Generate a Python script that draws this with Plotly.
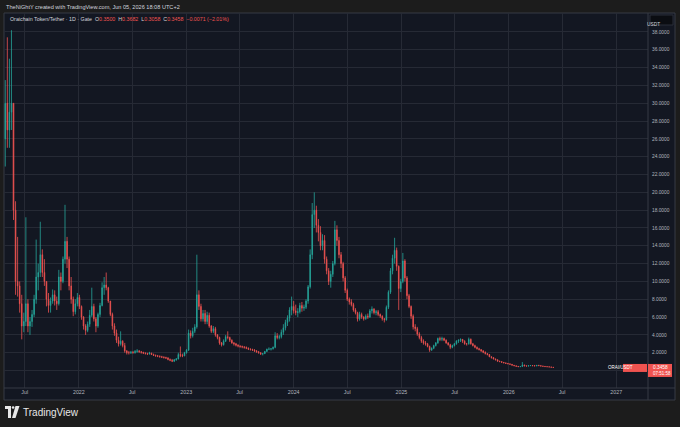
import pandas as pd
import plotly.graph_objects as go

# ORAI/USDT (Gate) - weekly candles
first_open = 26.0

highs = [
    32.6, 37.4, 35, 38.2, 30, 19, 15, 10, 8.5, 6.5,
    17.2, 8, 6, 6.8, 8.5, 14.7, 12, 16.7, 13.6, 12.5,
    10, 8.7, 8.2, 9.1, 9, 8.3, 11.3, 11, 12.8, 18.6,
    15, 12.8, 10.5, 8.3, 8, 8.7, 8.5, 7.3, 6.1, 5.2,
    5.5, 6.8, 9.3, 7.5, 6, 6.5, 7.6, 9.9, 10.5, 11,
    9.4, 7.8, 6.5, 5.3, 4.6, 3.8, 4.4, 3.4, 3.1, 2.3,
    2.2, 2.2, 2.2, 2.3, 2.4, 2.3, 2.2, 2.1, 2.05, 2.0,
    2.1, 2.0, 1.9, 1.8, 1.75, 1.7, 1.65, 1.6, 1.55, 1.5,
    1.35, 1.3, 1.3, 1.4, 2.0, 2.7, 1.9, 2.1, 2.4, 4.6,
    4.5, 4.8, 5.2, 13.0, 9, 7.5, 6.8, 6.8, 6.6, 6.5,
    5.1, 5.0, 4.9, 4.1, 3.8, 3.2, 3.5, 4.0, 4.4, 3.8,
    3.5, 3.2, 3.1, 2.95, 2.85, 2.8, 2.75, 2.7, 2.6, 2.5,
    2.45, 2.4, 2.3, 2.2, 2.05, 1.95, 2.2, 2.45, 2.6, 2.5,
    2.7, 4.3, 4.2, 4.0, 4.6, 5.2, 5.7, 6.2, 7.1, 8.3,
    7.8, 7.4, 7.0, 7.6, 7.7, 7.4, 8.0, 9.6, 13.6, 18.8,
    20.0, 18.5, 17.0, 16.2, 15.3, 15.2, 12.8, 11.5, 11.2, 12.3,
    16.8, 16.3, 15.0, 13.3, 12.2, 10.6, 9.2, 8.2, 8.0, 7.6,
    7.0, 6.6, 6.6, 6.5, 6.1, 6.3, 6.4, 6.9, 7.2, 7.0,
    6.8, 6.8, 6.4, 6.2, 5.9, 7.3, 9.0, 11.5, 13.0, 14.9,
    13.8, 11.8, 10.3, 13.2, 12.5, 10.6, 8.6, 7.3, 6.3, 5.2,
    4.9, 4.3, 3.9, 3.5, 3.3, 3.1, 2.8, 2.6, 2.9, 3.2,
    3.7, 3.8, 3.8, 3.7, 3.5, 3.2, 3.0, 2.9, 3.1, 3.4,
    3.5, 3.6, 3.5, 3.4, 3.1, 3.7, 3.6, 3.1, 2.9, 2.7,
    2.55, 2.4, 2.3, 2.15, 1.95, 1.85, 1.6, 1.5, 1.35, 1.25,
    1.1, 1.05, 0.95, 0.9, 0.84, 0.78, 0.72, 0.62, 0.56, 0.5,
    0.48, 0.95, 0.66, 0.58, 0.6, 0.62, 0.6, 0.6, 0.62, 0.64,
    0.58, 0.54, 0.5, 0.48, 0.45, 0.42, 0.38,
]

lows = [
    22.9, 25, 25, 27, 16.9, 8.5, 8.3, 6.5, 3.5, 4.3,
    5, 4.3, 4.0, 4.9, 6, 7.5, 9, 10.5, 10.5, 9.5,
    7.2, 6.5, 6.5, 7.5, 7.3, 6.8, 7.3, 9, 9.8, 12,
    11.5, 9, 7.5, 6.1, 6.3, 7.2, 6.9, 5.7, 4.6, 4.0,
    4.3, 4.9, 6, 5.5, 4.3, 4.8, 6, 7.2, 8.5, 9,
    7.6, 6.1, 4.6, 3.9, 3.1, 2.7, 2.8, 2.6, 2.0, 1.8,
    1.8, 1.85, 1.9, 1.9, 2.0, 2.0, 1.9, 1.85, 1.8, 1.75,
    1.8, 1.75, 1.65, 1.55, 1.5, 1.45, 1.4, 1.35, 1.3, 1.15,
    1.05, 0.95, 0.95, 1.1, 1.25, 1.5, 1.5, 1.6, 1.9, 2.2,
    3.6, 3.7, 4.2, 4.7, 6.8, 5.5, 5.5, 5.2, 5.2, 4.8,
    4.2, 4.2, 3.8, 3.5, 2.9, 2.7, 2.8, 3.2, 3.5, 3.2,
    3.0, 2.8, 2.7, 2.6, 2.55, 2.5, 2.45, 2.4, 2.3, 2.25,
    2.2, 2.1, 2.0, 1.9, 1.75, 1.7, 1.85, 2.1, 2.3, 2.25,
    2.35, 2.5, 3.5, 3.5, 3.6, 4.0, 4.5, 5.0, 5.5, 6.2,
    6.4, 6.2, 6.0, 6.4, 6.6, 6.7, 6.9, 7.5, 9.2, 12.5,
    16.0, 15.5, 14.5, 13.5, 13.5, 12.0, 10.8, 9.6, 9.3, 10.5,
    11.8, 14.0, 12.6, 11.5, 10.0, 8.7, 7.8, 7.4, 7.2, 6.6,
    6.3, 5.5, 5.6, 5.8, 5.6, 5.7, 5.8, 5.9, 6.4, 6.3,
    6.2, 6.1, 5.9, 5.6, 5.4, 5.6, 6.9, 8.6, 10.8, 12.0,
    11.2, 6.8, 8.8, 9.8, 10.0, 8.0, 7.0, 5.8, 4.6, 4.4,
    3.9, 3.5, 3.1, 2.9, 2.8, 2.6, 2.1, 2.2, 2.4, 2.7,
    3.0, 3.3, 3.3, 3.3, 3.0, 2.8, 2.4, 2.5, 2.7, 2.9,
    3.1, 3.2, 3.1, 2.9, 2.8, 2.9, 2.9, 2.7, 2.5, 2.35,
    2.25, 2.1, 1.95, 1.8, 1.7, 1.5, 1.35, 1.25, 1.15, 1.0,
    0.95, 0.88, 0.82, 0.78, 0.72, 0.66, 0.58, 0.5, 0.44, 0.4,
    0.38, 0.43, 0.48, 0.46, 0.45, 0.5, 0.5, 0.48, 0.48, 0.5,
    0.46, 0.44, 0.4, 0.39, 0.37, 0.34, 0.31,
]

closes = [
    30, 27, 29, 30, 18, 10, 9.5, 7.5, 5, 5.5,
    7.5, 5, 5.5, 6.3, 8, 10.5, 11, 13, 11, 10,
    8, 7.3, 7.8, 8.5, 7.8, 7.5, 10.5, 10, 12.5, 14.5,
    12.5, 9.5, 8, 6.6, 7.5, 8.2, 7.2, 6, 5, 4.5,
    5.2, 6.2, 7.2, 5.8, 5, 6.3, 7.3, 9.3, 9.6, 9.3,
    7.8, 6.3, 5, 4.2, 3.4, 3.0, 3.3, 2.8, 2.2, 2.0,
    2.0, 2.05, 2.0, 2.15, 2.2, 2.1, 2.05, 1.95, 1.9, 1.85,
    1.95, 1.8, 1.7, 1.65, 1.6, 1.55, 1.5, 1.45, 1.4, 1.25,
    1.15, 1.05, 1.2, 1.3, 1.8, 1.7, 1.65, 2.0, 2.3, 4.2,
    3.9, 4.4, 4.9, 8.5, 7.2, 5.8, 6.4, 5.5, 6.2, 5.0,
    4.4, 4.7, 4.0, 3.7, 3.1, 2.9, 3.3, 3.8, 3.7, 3.4,
    3.1, 3.0, 2.85, 2.75, 2.7, 2.65, 2.6, 2.5, 2.4, 2.35,
    2.3, 2.2, 2.1, 2.0, 1.85, 1.9, 2.15, 2.4, 2.4, 2.45,
    2.6, 3.9, 3.7, 3.8, 4.3, 4.8, 5.4, 5.9, 6.8, 7.2,
    6.7, 6.5, 6.6, 7.3, 7.0, 7.1, 7.8, 9.4, 13.0, 17.5,
    18.0, 16.3, 15.5, 14.0, 14.6, 12.5, 11.2, 10.0, 10.8, 12.0,
    15.8, 14.6, 13.0, 12.0, 10.4, 9.0, 8.0, 7.7, 7.4, 6.8,
    6.5, 5.8, 6.3, 6.0, 5.8, 6.1, 6.0, 6.7, 6.9, 6.5,
    6.6, 6.3, 6.1, 5.8, 5.7, 7.1, 8.8, 11.2, 12.6, 13.5,
    11.7, 9.2, 10.0, 12.3, 10.4, 8.4, 7.2, 6.1, 4.9, 4.7,
    4.1, 3.7, 3.3, 3.1, 3.0, 2.7, 2.3, 2.5, 2.8, 3.1,
    3.6, 3.5, 3.6, 3.4, 3.1, 2.9, 2.6, 2.8, 3.0, 3.3,
    3.4, 3.5, 3.3, 3.0, 3.0, 3.5, 3.0, 2.8, 2.6, 2.45,
    2.35, 2.2, 2.05, 1.9, 1.8, 1.55, 1.45, 1.3, 1.2, 1.05,
    1.0, 0.92, 0.86, 0.8, 0.75, 0.7, 0.6, 0.53, 0.47, 0.43,
    0.45, 0.62, 0.52, 0.5, 0.55, 0.56, 0.54, 0.52, 0.58, 0.55,
    0.5, 0.47, 0.44, 0.42, 0.4, 0.37, 0.3458,
]

weeks = pd.date_range("2021-04-26", periods=len(closes), freq="7D")
opens = [first_open] + closes[:-1]

x_tick_dates = ["2021-07-01", "2022-01-01", "2022-07-01", "2023-01-01",
                "2023-07-01", "2024-01-01", "2024-07-01", "2025-01-01",
                "2025-07-01", "2026-01-01", "2026-07-01", "2027-01-01"]
x_tick_text = ["Jul", "2022", "Jul", "2023", "Jul", "2024",
               "Jul", "2025", "Jul", "2026", "Jul", "2027"]
y_tick_vals = list(range(0, 40, 2))
y_tick_text = ["" if v == 0 else f"{v:.4f}" for v in y_tick_vals]

# daily bar shown in the legend line
last_o, last_h, last_l, last_c = 0.3500, 0.3682, 0.3058, 0.3458
change, change_pct = -0.0071, -2.01

UP = "#26a69a"
DOWN = "#ef5350"
BG = "#131722"
PAGE = "#1c1c1c"
GRID = "#262a35"
SEP = "#363a45"
TXT = "#b2b5be"
FONT = "Liberation Sans"

W, H = 680, 427
Y_MIN, Y_MAX = -1.96, 40.13
PLOT_TOP, PLOT_BOT = 13, 388


def px(x):
    return x / W


def py(y):
    return 1 - y / H


fig = go.Figure()

fig.add_trace(go.Candlestick(
    x=weeks, open=opens, high=highs, low=lows, close=closes,
    increasing=dict(line=dict(color=UP, width=0.8), fillcolor=UP),
    decreasing=dict(line=dict(color=DOWN, width=0.8), fillcolor=DOWN),
    whiskerwidth=0,
    hoverinfo="skip",
))

shapes = [
    # chart panel incl. price/time scales
    dict(type="rect", xref="paper", yref="paper", x0=px(4), x1=px(675),
         y0=py(13), y1=py(400), fillcolor=BG, line=dict(color=SEP, width=1),
         layer="below"),
    # scale separators
    dict(type="line", xref="paper", yref="paper", x0=px(648), x1=px(648),
         y0=py(13), y1=py(400), line=dict(color=SEP, width=1)),
    dict(type="line", xref="paper", yref="paper", x0=px(4), x1=px(675),
         y0=py(388), y1=py(388), line=dict(color=SEP, width=1)),
    # USDT box
    dict(type="rect", xref="paper", yref="paper", x0=px(650), x1=px(673),
         y0=py(15), y1=py(25), fillcolor="#0b0d12", line=dict(color="#2a2e39", width=1)),
]

# last price labels, anchored on the last close
unit = (PLOT_BOT - PLOT_TOP) / (Y_MAX - Y_MIN)
shapes.append(dict(type="rect", xref="paper", yref="y", x0=px(623), x1=px(647),
                   y0=last_c + 3.5 / unit, y1=last_c - 4.5 / unit,
                   fillcolor="#f05350", line=dict(width=0)))
shapes.append(dict(type="rect", xref="paper", yref="y", x0=px(648), x1=px(672),
                   y0=last_c + 3.5 / unit, y1=last_c - 9.5 / unit,
                   fillcolor="#f05350", line=dict(width=0)))

# TradingView logo
shapes += [
    dict(type="path", xref="paper", yref="paper",
         path=f"M {px(5)},{py(406)} L {px(11)},{py(406)} L {px(11)},{py(418)} "
              f"L {px(8)},{py(418)} L {px(8)},{py(409)} L {px(5)},{py(409)} Z",
         fillcolor="#e8e8e8", line=dict(width=0)),
    dict(type="circle", xref="paper", yref="paper", x0=px(11.8), x1=px(14.4),
         y0=py(406.2), y1=py(408.8), fillcolor="#e8e8e8", line=dict(width=0)),
    dict(type="path", xref="paper", yref="paper",
         path=f"M {px(15.5)},{py(406)} L {px(19.5)},{py(406)} L {px(15.5)},{py(418)} "
              f"L {px(12)},{py(418)} Z",
         fillcolor="#e8e8e8", line=dict(width=0)),
]

red = "#f05350"
legend_txt = (
    "Oraichain Token/Tether · 1D · Gate  "
    f"O<span style='color:{red}'>{last_o:.4f}</span>  "
    f"H<span style='color:{red}'>{last_h:.4f}</span>  "
    f"L<span style='color:{red}'>{last_l:.4f}</span>  "
    f"C<span style='color:{red}'>{last_c:.4f}</span>  "
    f"<span style='color:{red}'>{change:+.4f} ({change_pct:+.2f}%)</span>"
).replace("-", "−")

annotations = [
    dict(text="TheNiGhtY created with TradingView.com, Jun 05, 2026 18:08 UTC+2",
         xref="paper", yref="paper", x=px(4), y=py(6.5), xanchor="left", yanchor="middle",
         showarrow=False, font=dict(size=5.6, color="#d1d4dc")),
    dict(text=legend_txt, xref="paper", yref="paper", x=px(8), y=py(19),
         xanchor="left", yanchor="middle", showarrow=False,
         font=dict(size=5.3, color="#d1d4dc")),
    dict(text="USDT", xref="paper", yref="paper", x=px(661.5), y=py(20),
         showarrow=False, font=dict(size=4.8, color="#d1d4dc")),
    dict(text="ORAI/USDT", xref="paper", yref="y", x=px(635), y=last_c - 0.5 / unit,
         showarrow=False, font=dict(size=4.5, color="white")),
    dict(text=f"{last_c:.4f}", xref="paper", yref="y", x=px(651), y=last_c,
         xanchor="left", showarrow=False, font=dict(size=4.8, color="white")),
    dict(text="07:51:58", xref="paper", yref="y", x=px(651), y=last_c - 6.5 / unit,
         xanchor="left", showarrow=False, font=dict(size=4.5, color="white")),
    dict(text="TradingView", xref="paper", yref="paper", x=px(21), y=py(412),
         xanchor="left", yanchor="middle", showarrow=False,
         font=dict(size=10, color="#e8e8e8")),
]

fig.update_layout(
    width=W, height=H,
    margin=dict(l=0, r=0, t=0, b=0),
    paper_bgcolor=PAGE,
    plot_bgcolor=BG,
    showlegend=False,
    boxgap=0.55,
    font=dict(family=FONT, color=TXT),
    shapes=shapes,
    annotations=annotations,
    xaxis=dict(
        domain=[px(4), px(648)],
        range=["2021-04-21 17:00", "2027-04-19"],
        rangeslider=dict(visible=False),
        tickvals=x_tick_dates, ticktext=x_tick_text,
        tickfont=dict(size=5.3, color=TXT),
        showgrid=True, gridcolor=GRID, gridwidth=1,
        zeroline=False, showline=False, ticks="",
    ),
    yaxis=dict(
        domain=[py(PLOT_BOT), py(PLOT_TOP)],
        range=[Y_MIN, Y_MAX],
        side="right",
        tickvals=y_tick_vals, ticktext=y_tick_text,
        tickfont=dict(size=4.8, color=TXT),
        showgrid=True, gridcolor=GRID, gridwidth=1,
        zeroline=False, showline=False, ticks="",
        ticklabelstandoff=3,
    ),
)

# the page's default body margin would push the 680x427 figure out of the window
fig.write_html("out.html",
               config={"displayModeBar": False},
               post_script=f"document.body.style.margin='0';"
                           f"document.body.style.background='{PAGE}';")
